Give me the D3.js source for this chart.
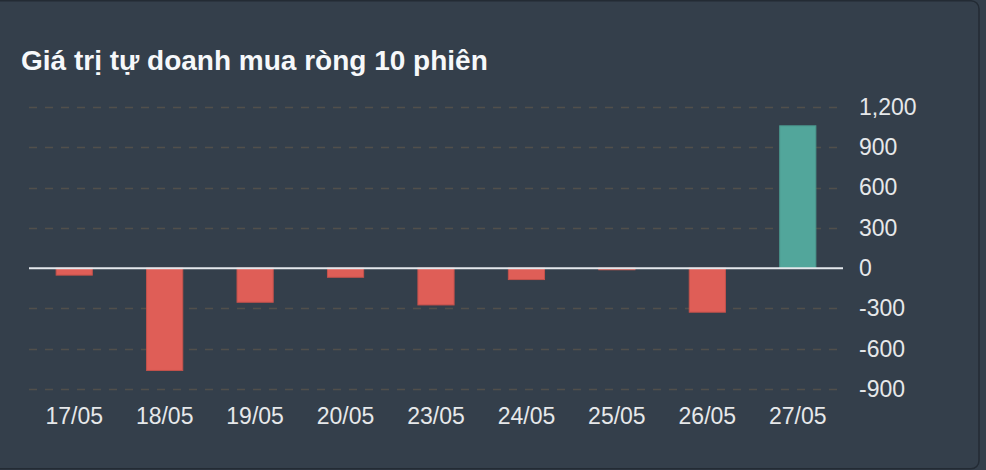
<!DOCTYPE html>
<html lang="vi">
<head>
    <meta charset="UTF-8">
    <title>Giá trị tự doanh mua ròng 10 phiên</title>
    <script src="https://cdnjs.cloudflare.com/ajax/libs/d3/7.8.5/d3.min.js"></script>
    <style>
        html, body { margin: 0; padding: 0; background: #343f4b; overflow: hidden; }
        #wrapper { width: 986px; height: 470px; }
    </style>
</head>
<body>
    <div id="wrapper"></div>
    <script>
        // dữ liệu (tỷ đồng)
        const sessions = ['17/05', '18/05', '19/05', '20/05', '23/05', '24/05', '25/05', '26/05', '27/05']
        const netValues = [-52, -762, -254, -68, -274, -85, -12, -328, 1060]
        const yTicks = [-900, -600, -300, 0, 300, 600, 900, 1200]
        const title = 'Giá trị tự doanh mua ròng 10 phiên'

        const dimensions = {
            width: 986,
            height: 470,
            margin: { top: 107, right: 143, bottom: 81, left: 29 }
        }
        dimensions.boundedWidth = dimensions.width - dimensions.margin.left - dimensions.margin.right
        dimensions.boundedHeight = dimensions.height - dimensions.margin.top - dimensions.margin.bottom

        const svg = d3.select('#wrapper')
            .append('svg')
                .attr('width', dimensions.width)
                .attr('height', dimensions.height)

        // khung thẻ
        svg.append('rect')
            .attr('x', -20)
            .attr('y', 0.75)
            .attr('width', 999)
            .attr('height', 468)
            .attr('rx', 8)
            .attr('fill', '#343f4b')
            .attr('stroke', '#232b34')
            .attr('stroke-width', 1.5)

        svg.append('text')
            .attr('x', 21)
            .attr('y', 70)
            .text(title)
            .attr('fill', '#f6f8fa')
            .style('font-family', '"Liberation Sans", Arial, sans-serif')
            .style('font-weight', 'bold')
            .style('font-size', '28px')

        const bounds = svg.append('g')
            .attr('transform', `translate(${dimensions.margin.left},${dimensions.margin.top})`)

        const xScale = d3.scaleBand()
            .domain(sessions)
            .range([0, dimensions.boundedWidth])

        const yScale = d3.scaleLinear()
            .domain([-900, 1200])
            .range([dimensions.boundedHeight, 0])

        // lưới
        bounds.append('g')
            .selectAll('line')
            .data(yTicks.filter(d => d !== 0))
            .enter().append('line')
                .attr('x1', 0)
                .attr('x2', dimensions.boundedWidth - 6)
                .attr('y1', d => Math.round(yScale(d)) + 0.5)
                .attr('y2', d => Math.round(yScale(d)) + 0.5)
                .attr('stroke', '#514f4b')
                .attr('stroke-width', 1.5)
                .attr('stroke-dasharray', '8 8')

        // cột
        const barWidth = xScale.bandwidth() * 0.4
        bounds.append('g')
            .selectAll('rect')
            .data(sessions)
            .enter().append('rect')
                .attr('x', (d, i) => xScale(d) + (xScale.bandwidth() - barWidth) / 2)
                .attr('y', (d, i) => yScale(Math.max(0, netValues[i])))
                .attr('width', barWidth)
                .attr('height', (d, i) => Math.abs(yScale(netValues[i]) - yScale(0)))
                .attr('fill', (d, i) => netValues[i] >= 0 ? '#52a69b' : '#df5e57')
                .attr('stroke', (d, i) => netValues[i] >= 0 ? '#4a978d' : '#c4524c')
                .attr('stroke-width', 1)

        // đường 0
        bounds.append('line')
            .attr('x1', 0)
            .attr('x2', dimensions.boundedWidth)
            .attr('y1', yScale(0))
            .attr('y2', yScale(0))
            .attr('stroke', '#e4e8ec')
            .attr('stroke-width', 2)

        const fmt = d3.format(',')
        const yAxis = bounds.append('g')
            .attr('transform', `translate(${dimensions.boundedWidth + 16},0)`)
            .call(d3.axisRight(yScale).tickValues(yTicks).tickSize(0).tickPadding(0)
                .tickFormat(d => fmt(d).replace('\u2212', '-')))
        yAxis.select('.domain').remove()
        yAxis.selectAll('text')
            .attr('fill', '#e6e8ea')
            .style('font-family', '"Liberation Sans", Arial, sans-serif')
            .style('font-size', '23px')

        const xAxis = bounds.append('g')
            .attr('transform', `translate(0,${dimensions.boundedHeight + 19})`)
            .call(d3.axisBottom(xScale).tickSize(0).tickPadding(0))
        xAxis.select('.domain').remove()
        xAxis.selectAll('text')
            .attr('fill', '#e6e8ea')
            .attr('dy', '0.71em')
            .style('font-family', '"Liberation Sans", Arial, sans-serif')
            .style('font-size', '23px')
    </script>
</body>
</html>
